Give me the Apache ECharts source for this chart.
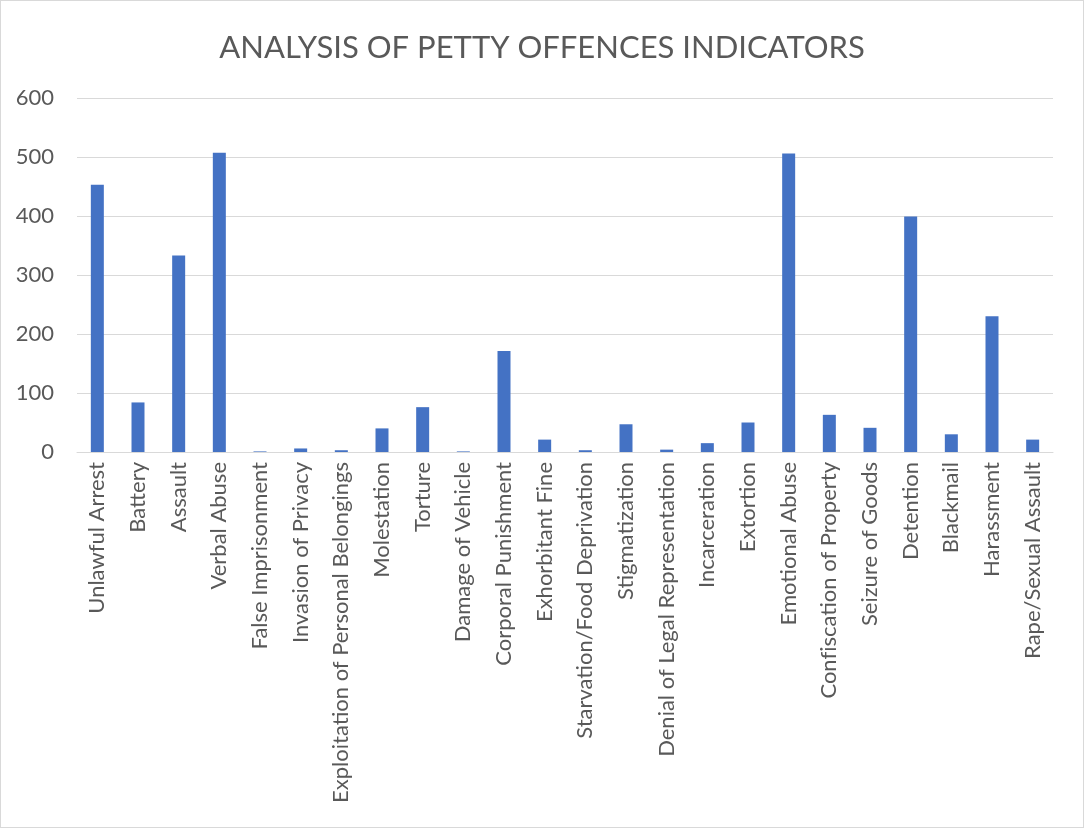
<!DOCTYPE html>
<html>
<head>
<meta charset="utf-8">
<script src="https://cdn.jsdelivr.net/npm/echarts@6/dist/echarts.min.js"></script>
<style>
  html, body { margin: 0; padding: 0; background: #fff; }
  #chart { width: 1082px; height: 826px; border: 1px solid #d9d9d9; }
</style>
</head>
<body>
<div id="chart"></div>
<script>
// Petty offences indicators: category names and counts
const categories = [
  'Unlawful Arrest', 'Battery', 'Assault', 'Verbal Abuse', 'False Imprisonment',
  'Invasion of Privacy', 'Exploitation of Personal Belongings', 'Molestation',
  'Torture', 'Damage of Vehicle', 'Corporal Punishment', 'Exhorbitant Fine',
  'Starvation/Food Deprivation', 'Stigmatization', 'Denial of Legal Representation',
  'Incarceration', 'Extortion', 'Emotional Abuse', 'Confiscation of Property',
  'Seizure of Goods', 'Detention', 'Blackmail', 'Harassment', 'Rape/Sexual Assault'
];
const counts = [
  453, 84, 333, 507, 1,
  6, 3, 40,
  76, 1, 171, 21,
  3, 47, 4,
  15, 50, 506, 63,
  41, 399, 30, 230, 21
];
const yTicks = { min: 0, max: 600, interval: 100 };

const font = 'Lato, Open Sans, sans-serif';
const chart = echarts.init(document.getElementById('chart'));
chart.setOption({
  animation: false,
  title: {
    text: 'ANALYSIS OF PETTY OFFENCES INDICATORS',
    left: 'center',
    top: 26,
    textStyle: { fontFamily: font, fontSize: 31, fontWeight: 'normal', color: '#595959' }
  },
  grid: { left: 76, right: 30, top: 97, bottom: 375, containLabel: false },
  xAxis: {
    type: 'category',
    data: categories,
    axisLine: { lineStyle: { color: '#d9d9d9', width: 1 } },
    axisTick: { show: false },
    axisLabel: {
      rotate: 90,
      interval: 0,
      margin: 10,
      fontFamily: font,
      fontSize: 22,
      color: '#595959',
      // keep "fi" as two separate glyphs
      formatter: v => v.replace(/fi/g, 'f\u200Ci')
    }
  },
  yAxis: {
    type: 'value',
    min: yTicks.min,
    max: yTicks.max,
    interval: yTicks.interval,
    axisLine: { show: false },
    axisTick: { show: false },
    splitLine: { lineStyle: { color: '#d9d9d9', width: 1 } },
    axisLabel: { fontFamily: font, fontSize: 22, color: '#595959', margin: 23 }
  },
  series: [{
    type: 'bar',
    data: counts,
    barWidth: 13,
    itemStyle: { color: '#4472c4' }
  }]
});
</script>
</body>
</html>
